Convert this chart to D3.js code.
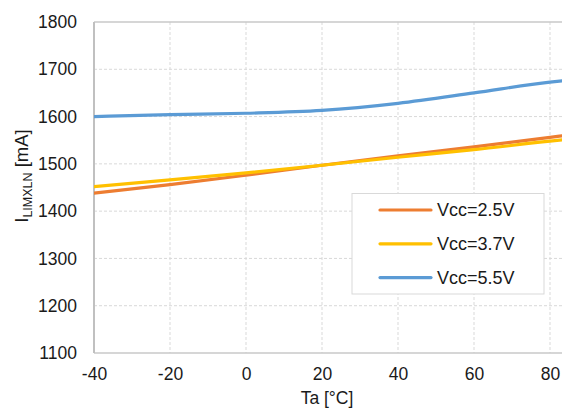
<!DOCTYPE html>
<html>
<head>
<meta charset="utf-8">
<script src="https://cdn.jsdelivr.net/npm/d3@7"></script>
<style>
  html, body { margin: 0; padding: 0; background: #fff; }
  svg { display: block; font-family: "Liberation Sans", Arial, sans-serif; }
</style>
</head>
<body>
<svg id="chart" width="562" height="410"></svg>
<script>
// ---- data ----
const temps   = [-40, -20, 0, 20, 40, 60, 80, 85];
const vcc25   = [1438, 1456, 1476, 1497, 1517, 1536, 1556, 1561];
const vcc37   = [1452, 1466, 1481, 1497, 1514, 1530, 1548, 1552];
const vcc55   = [1600, 1604, 1607, 1613, 1628, 1650, 1673, 1677];
const seriesNames = ["Vcc=2.5V", "Vcc=3.7V", "Vcc=5.5V"];
const xTicks = [-40, -20, 0, 20, 40, 60, 80];
const yTicks = [1100, 1200, 1300, 1400, 1500, 1600, 1700, 1800];

(function () {
const colors = ["#ED7D31", "#FFC000", "#5B9BD5"];
const series = [vcc25, vcc37, vcc55];

const H = 410;
const pLeft = 94, pTop = 22, pBottom = 353, pRight = 562;
const svg = d3.select("#chart");

const x = d3.scaleLinear().domain([-40, 80]).range([pLeft, 550]);
const y = d3.scaleLinear().domain([1100, 1800]).range([pBottom, pTop]);

const textColor = "#1a1a1a";
const fontSize = 17.5;
const fmt = d => String(d);

// gridlines
const grid = svg.append("g");
grid.selectAll("line.h").data(yTicks.filter(v => v !== 1100 && v !== 1800)).join("line")
  .attr("x1", pLeft).attr("x2", pRight)
  .attr("y1", d => y(d)).attr("y2", d => y(d))
  .attr("stroke", "#d9d9d9").attr("stroke-width", 1).attr("stroke-dasharray", "3,2");
grid.selectAll("line.v").data(xTicks.filter(v => v !== -40)).join("line")
  .attr("x1", d => x(d)).attr("x2", d => x(d))
  .attr("y1", pTop).attr("y2", pBottom)
  .attr("stroke", "#d9d9d9").attr("stroke-width", 1).attr("stroke-dasharray", "3,2");

// frame lines
svg.append("line").attr("x1", pLeft).attr("x2", pRight).attr("y1", pTop).attr("y2", pTop)
  .attr("stroke", "#c8c8c8").attr("stroke-width", 1.5);
svg.append("line").attr("x1", pLeft).attr("x2", pRight).attr("y1", pBottom).attr("y2", pBottom)
  .attr("stroke", "#c8c8c8").attr("stroke-width", 1.5);
svg.append("line").attr("x1", pLeft).attr("x2", pLeft).attr("y1", pTop).attr("y2", pBottom)
  .attr("stroke", "#c0c0c0").attr("stroke-width", 2);

// axes (labels only)
const yAxis = d3.axisLeft(y).tickValues(yTicks).tickSize(0).tickPadding(0).tickFormat(fmt);
const yg = svg.append("g").attr("transform", `translate(${pLeft - 17},0)`).call(yAxis);
yg.select(".domain").remove();
yg.selectAll("text").attr("font-size", fontSize).attr("fill", textColor)
  .attr("font-family", '"Liberation Sans", Arial, sans-serif');

const xAxis = d3.axisBottom(x).tickValues(xTicks).tickSize(0).tickPadding(0).tickFormat(fmt);
const xg = svg.append("g").attr("transform", `translate(0,${pBottom + 15})`).call(xAxis);
xg.select(".domain").remove();
xg.selectAll("text").attr("font-size", fontSize).attr("fill", textColor)
  .attr("font-family", '"Liberation Sans", Arial, sans-serif');

// axis titles
svg.append("text").attr("x", 327).attr("y", 404).attr("text-anchor", "middle")
  .attr("font-size", fontSize).attr("fill", textColor).text("Ta [°C]");

const yt = svg.append("text").attr("transform", "translate(28,176) rotate(-90)")
  .attr("text-anchor", "middle").attr("font-size", 18.5).attr("fill", textColor);
yt.append("tspan").text("I");
yt.append("tspan").attr("font-size", 12.5).attr("dy", 4).text("LIMXLN");
yt.append("tspan").attr("dy", -4).text(" [mA]");

// lines
svg.append("clipPath").attr("id", "plotclip").append("rect")
  .attr("x", pLeft).attr("y", 0).attr("width", pRight - pLeft).attr("height", H);
const line = d3.line().x((d, i) => x(temps[i])).y(d => y(d)).curve(d3.curveMonotoneX);
const lg = svg.append("g").attr("clip-path", "url(#plotclip)");
series.forEach((s, i) => {
  lg.append("path").datum(s).attr("d", line)
    .attr("fill", "none").attr("stroke", colors[i]).attr("stroke-width", 3.2)
    .attr("stroke-linecap", "round");
});

// legend
const leg = svg.append("g");
leg.append("rect").attr("x", 352).attr("y", 193.5).attr("width", 192).attr("height", 100.5)
  .attr("fill", "#fff").attr("stroke", "#d9d9d9").attr("stroke-width", 1);
seriesNames.forEach((name, i) => {
  const yy = 210 + i * 33.8;
  leg.append("line").attr("x1", 380).attr("x2", 431).attr("y1", yy).attr("y2", yy)
    .attr("stroke", colors[i]).attr("stroke-width", 3.2).attr("stroke-linecap", "round");
  leg.append("text").attr("x", 437).attr("y", yy + 6.3).attr("font-size", 18)
    .attr("fill", textColor).text(name);
});
})();
</script>
</body>
</html>
